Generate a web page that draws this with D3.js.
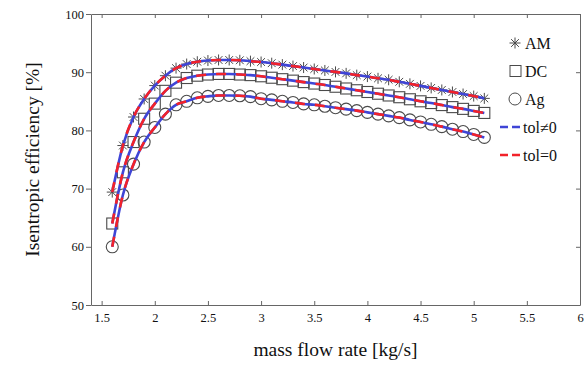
<!DOCTYPE html>
<html>
<head>
<meta charset="utf-8">
<script src="https://cdn.jsdelivr.net/npm/d3@7"></script>
<style>
  body { margin: 0; background: #fff; }
  svg text { font-family: "Liberation Serif", "DejaVu Serif", serif; fill: #111; }
</style>
</head>
<body>
<svg id="chart" width="588" height="365"></svg>
<script>
// mass flow rate [kg/s]
const massFlow = d3.range(16, 52).map(d => d / 10);

const amValues = [69.4, 77.4, 82.3, 85.4, 87.7, 89.4, 90.7, 91.4, 91.8, 92.0,
  92.1, 92.1, 92.05, 91.9, 91.75, 91.55, 91.3, 91.05, 90.8, 90.55,
  90.3, 90.05, 89.8, 89.5, 89.25, 88.95, 88.7, 88.35, 88.0, 87.65,
  87.3, 86.95, 86.6, 86.25, 85.9, 85.5];

const dcValues = [64.0, 72.8, 78.0, 82.0, 84.6, 86.8, 88.2, 89.0, 89.4, 89.6,
  89.7, 89.7, 89.6, 89.5, 89.3, 89.05, 88.8, 88.55, 88.3, 88.05,
  87.8, 87.5, 87.2, 86.9, 86.6, 86.3, 86.0, 85.7, 85.35, 85.0,
  84.7, 84.35, 84.0, 83.7, 83.35, 83.0];

const agValues = [60.0, 68.9, 74.2, 78.0, 80.5, 82.8, 84.4, 85.0, 85.6, 85.85,
  86.0, 86.0, 85.95, 85.8, 85.45, 85.25, 85.0, 84.8, 84.55, 84.4,
  84.15, 83.9, 83.65, 83.4, 83.1, 82.8, 82.5, 82.2, 81.8, 81.45,
  81.05, 80.65, 80.2, 79.8, 79.3, 78.8];

const xTicks = [1.5, 2, 2.5, 3, 3.5, 4, 4.5, 5, 5.5, 6];
const yTicks = [50, 60, 70, 80, 90, 100];

const WIDTH  = 588;
const HEIGHT = 365;
const MARGIN = { top: 14, right: 8, bottom: 60, left: 91 };

const svg = d3.select("#chart");

const x = d3.scaleLinear()
  .domain([1.4, 6])
  .range([MARGIN.left, WIDTH - MARGIN.right]);

const y = d3.scaleLinear()
  .domain([50, 100])
  .range([HEIGHT - MARGIN.bottom, MARGIN.top]);

const AXIS_COLOR = "#666";

// frame + ticks
function styleAxis(g) {
  g.select(".domain").attr("stroke", AXIS_COLOR);
  g.selectAll(".tick line").attr("stroke", AXIS_COLOR);
  g.selectAll(".tick text").attr("font-size", 12.5).attr("fill", "#222")
    .style("font-family", "'Liberation Serif', serif");
}

svg.append("g")
  .attr("transform", "translate(0," + y(50) + ")")
  .call(d3.axisBottom(x).tickValues(xTicks).tickFormat(d => String(d))
    .tickSize(-4).tickSizeOuter(0).tickPadding(8))
  .call(styleAxis);

svg.append("g")
  .attr("transform", "translate(0," + y(100) + ")")
  .call(d3.axisTop(x).tickValues(xTicks).tickSize(-4).tickSizeOuter(0).tickFormat(""))
  .call(styleAxis);

svg.append("g")
  .attr("transform", "translate(" + x(1.4) + ",0)")
  .call(d3.axisLeft(y).tickValues(yTicks).tickSize(5).tickSizeOuter(0).tickPadding(2))
  .call(styleAxis);

svg.append("g")
  .attr("transform", "translate(" + x(6) + ",0)")
  .call(d3.axisRight(y).tickValues(yTicks).tickSize(-4).tickSizeOuter(0).tickFormat(""))
  .call(styleAxis);

// axis titles
svg.append("text")
  .attr("transform", "rotate(-90)")
  .attr("x", -(y(75)))
  .attr("y", 39)
  .attr("text-anchor", "middle")
  .attr("font-size", 19.5)
  .text("Isentropic efficiency [%]");

svg.append("text")
  .attr("x", x(3.7))
  .attr("y", 356)
  .attr("text-anchor", "middle")
  .attr("font-size", 19.5)
  .text("mass flow rate [kg/s]");

// marker shapes
function asterisk(cx, cy, r) {
  let p = "";
  for (let i = 0; i < 4; i++) {
    const a = i * Math.PI / 4;
    const dx = r * Math.cos(a), dy = r * Math.sin(a);
    p += "M" + (cx - dx) + "," + (cy - dy) + "L" + (cx + dx) + "," + (cy + dy);
  }
  return p;
}

const MARKER_COLOR = "#4a4a4a";

function drawMarkers(values, type, g) {
  const pts = massFlow.map((m, i) => ({ m: m, v: values[i] }));
  if (type === "asterisk") {
    g.selectAll("path.m").data(pts).enter().append("path")
      .attr("d", d => asterisk(x(d.m), y(d.v), 5.5))
      .attr("stroke", MARKER_COLOR).attr("stroke-width", 1).attr("fill", "none");
  } else if (type === "square") {
    g.selectAll("rect").data(pts).enter().append("rect")
      .attr("x", d => x(d.m) - 5.5).attr("y", d => y(d.v) - 5.5)
      .attr("width", 11).attr("height", 11)
      .attr("stroke", MARKER_COLOR).attr("stroke-width", 1.1).attr("fill", "none");
  } else {
    g.selectAll("circle").data(pts).enter().append("circle")
      .attr("cx", d => x(d.m)).attr("cy", d => y(d.v)).attr("r", 6)
      .attr("stroke", MARKER_COLOR).attr("stroke-width", 1.1).attr("fill", "none");
  }
}

const series = [
  { values: amValues, marker: "asterisk" },
  { values: dcValues, marker: "square" },
  { values: agValues, marker: "circle" }
];

const markers = svg.append("g");
series.forEach(s => drawMarkers(s.values, s.marker, markers.append("g")));

const line = d3.line()
  .x(d => x(d[0]))
  .y(d => y(d[1]))
  .curve(d3.curveMonotoneX);

const lines = svg.append("g");
series.forEach(s => {
  const pts = massFlow.map((m, i) => [m, s.values[i]]);
  lines.append("path")
    .attr("d", line(pts))
    .attr("fill", "none")
    .attr("stroke", "#3f45d6")
    .attr("stroke-width", 2.6);
  lines.append("path")
    .attr("d", line(pts))
    .attr("fill", "none")
    .attr("stroke", "#f2222a")
    .attr("stroke-width", 2.6)
    .attr("stroke-dasharray", "10,10");
});

// legend
const legend = svg.append("g");
const legendItems = [
  { label: "AM", marker: "asterisk", ly: 43 },
  { label: "DC", marker: "square", ly: 71 },
  { label: "Ag", marker: "circle", ly: 99 }
];
legendItems.forEach(it => {
  if (it.marker === "asterisk") {
    legend.append("path").attr("d", asterisk(515, it.ly, 5.5))
      .attr("stroke", MARKER_COLOR).attr("fill", "none");
  } else if (it.marker === "square") {
    legend.append("rect").attr("x", 510).attr("y", it.ly - 5.5).attr("width", 11).attr("height", 11)
      .attr("stroke", MARKER_COLOR).attr("fill", "none");
  } else {
    legend.append("circle").attr("cx", 515).attr("cy", it.ly).attr("r", 6)
      .attr("stroke", MARKER_COLOR).attr("fill", "none");
  }
  legend.append("text").attr("x", 525).attr("y", it.ly + 5.5)
    .attr("font-size", 16).text(it.label);
});

const lineItems = [
  { label: "tol\u22600", color: "#3f45d6", ly: 127 },
  { label: "tol=0", color: "#f2222a", ly: 155 }
];
lineItems.forEach(it => {
  legend.append("line").attr("x1", 500).attr("x2", 521).attr("y1", it.ly).attr("y2", it.ly)
    .attr("stroke", it.color).attr("stroke-width", 2.6).attr("stroke-dasharray", "8,4");
  legend.append("text").attr("x", 523).attr("y", it.ly + 5.5)
    .attr("font-size", 16).text(it.label);
});
</script>
</body>
</html>
